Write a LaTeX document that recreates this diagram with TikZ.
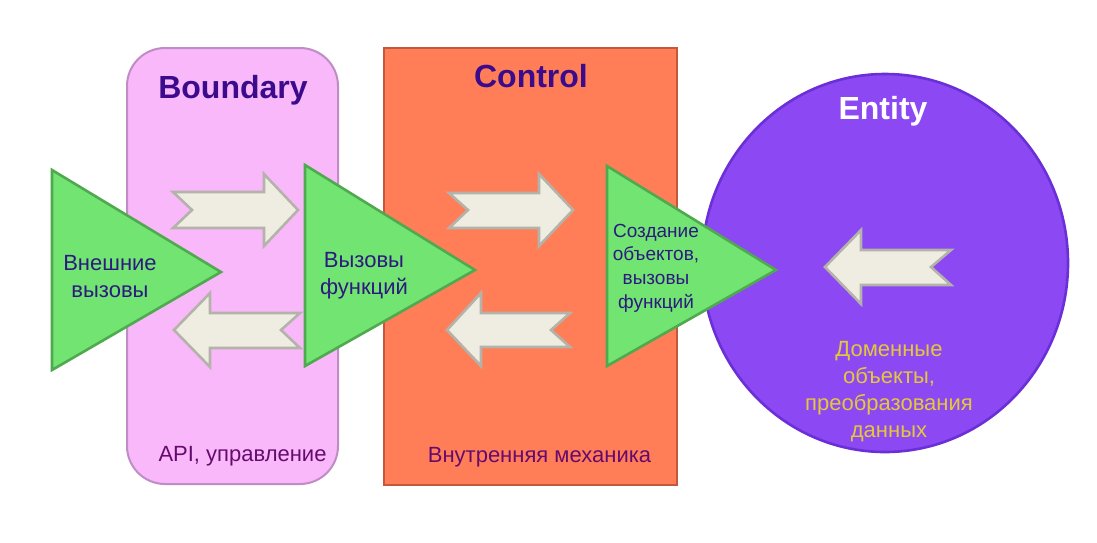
\documentclass[tikz,border=0pt]{standalone}
\usepackage{fontspec}
\setmainfont{Liberation Sans}
\usetikzlibrary{shapes.geometric}
\definecolor{bndfill}{HTML}{F9B8FA}
\definecolor{bndline}{HTML}{C08CC4}
\definecolor{ctlfill}{HTML}{FF7E58}
\definecolor{ctlline}{HTML}{C4583A}
\definecolor{entfill}{HTML}{8B48F3}
\definecolor{entline}{HTML}{6B2FD8}
\definecolor{trifill}{HTML}{72E472}
\definecolor{triline}{HTML}{4FAA4F}
\definecolor{arrfill}{HTML}{EFEDE2}
\definecolor{arrline}{HTML}{B4B3AA}
\definecolor{headtext}{HTML}{3B0B8C}
\definecolor{tritext}{HTML}{2C1A7E}
\definecolor{subtext}{HTML}{660A6E}
\definecolor{enttext}{HTML}{E5C83A}
\tikzset{
  layerbox/.style={inner sep=0pt, outer sep=0pt},
  tri/.style={fill=trifill, draw=triline, line width=2.6pt, line join=miter},
  blockarrow/.style={fill=arrfill, draw=arrline, line width=2.6pt, line join=miter},
  headlabel/.style={font=\bfseries\fontsize{32}{36}\selectfont, anchor=base, inner sep=0pt},
  trilabel/.style={font=\fontsize{22}{27}\selectfont, text=tritext, align=center, inner sep=0pt},
  sublabel/.style={font=\fontsize{22}{27}\selectfont, anchor=base, inner sep=0pt}
}
\begin{document}
\begin{tikzpicture}[x=1pt,y=-1pt]
\useasboundingbox[fill=white] (0,0) rectangle (1097,542);
% containers
\node[layerbox, rectangle, rounded corners=38pt, fill=bndfill, draw=bndline, line width=2pt,
      minimum width=211pt, minimum height=436pt] (boundary) at (232.5,266) {};
\node[layerbox, rectangle, fill=ctlfill, draw=ctlline, line width=2.8pt,
      minimum width=293pt, minimum height=437pt] (control) at (530.5,266.5) {};
\node[layerbox, ellipse, fill=entfill, draw=entline, line width=2.6pt,
      minimum width=366pt, minimum height=378pt] (entity) at (885,263) {};
% headings
\node[headlabel, text=headtext] (bndtitle) at (233,98) {Boundary};
\node[headlabel, text=headtext] (ctltitle) at (531,87) {Control};
\node[headlabel, text=white] (enttitle) at (883,119) {Entity};
% block arrows
\filldraw[blockarrow] (173,192) -- (192,210) -- (173,228) -- (264,228) -- (264,246) -- (298,210) -- (264,174) -- (264,192) -- cycle;
\filldraw[blockarrow] (174,330) -- (210,293) -- (210,313) -- (300,313) -- (281,330) -- (300,348) -- (210,348) -- (210,367) -- cycle;
\filldraw[blockarrow] (449,193) -- (468,210) -- (449,228) -- (539,228) -- (539,246) -- (573,210) -- (539,174) -- (539,193) -- cycle;
\filldraw[blockarrow] (447,330) -- (481,293) -- (481,313) -- (570,313) -- (551,330) -- (570,347) -- (481,347) -- (481,366) -- cycle;
\filldraw[blockarrow] (825,267) -- (861,230) -- (861,250) -- (951,250) -- (931,267) -- (951,285) -- (861,285) -- (861,304) -- cycle;
% triangles
\filldraw[tri] (52,170) -- (52,370) -- (221,272) -- cycle;
\filldraw[tri] (305,165) -- (305,366) -- (475,270) -- cycle;
\filldraw[tri] (607,166) -- (607,366) -- (776,270) -- cycle;
% triangle labels
\node[trilabel] (ext) at (110,277) {Внешние\\вызовы};
\node[trilabel] (calls) at (364,276) {Вызовы\\функций};
\node[trilabel, font=\fontsize{19}{23.7}\selectfont] (create) at (656,268) {Создание\\объектов,\\вызовы\\функций};
% bottom labels
\node[sublabel, text=subtext] (api) at (242.5,461) {API, управление};
\node[sublabel, text=subtext] (mech) at (539.5,462) {Внутренняя механика};
\node[trilabel, text=enttext] (domain) at (889,392) {Доменные\\объекты,\\преобразования\\данных};
\end{tikzpicture}
\end{document}
